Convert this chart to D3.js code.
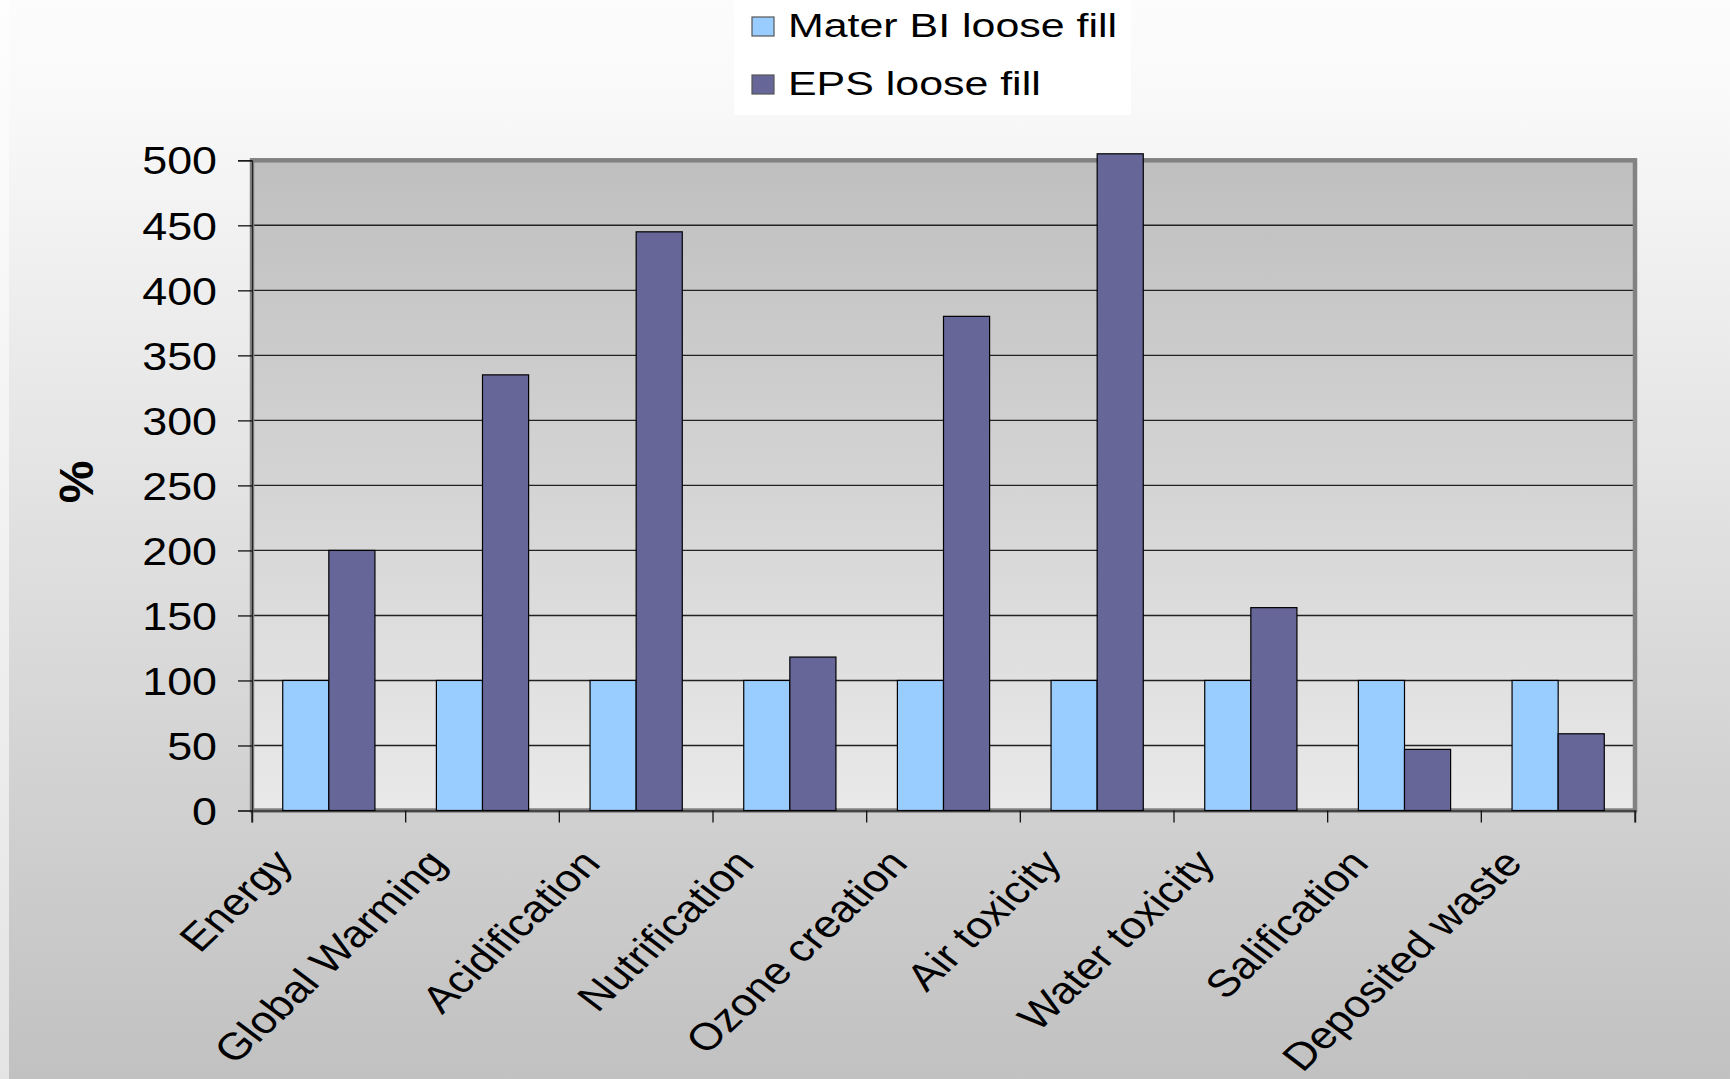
<!DOCTYPE html>
<html>
<head>
<meta charset="utf-8">
<script src="https://cdn.jsdelivr.net/npm/d3@7"></script>
<style>
  html, body { margin: 0; padding: 0; background: #ffffff; }
  svg { display: block; }
  text { font-family: "Liberation Sans", Arial, sans-serif; fill: #000; }
</style>
</head>
<body>
<svg id="chart" width="1730" height="1079"></svg>
<script>
// ---- data ----
const categories = ["Energy", "Global Warming", "Acidification", "Nutrification", "Ozone creation",
                    "Air toxicity", "Water toxicity", "Salification", "Deposited waste"];
const seriesNames = ["Mater BI loose fill", "EPS loose fill"];
const materBI = [100, 100, 100, 100, 100, 100, 100, 100, 100];
const eps = [200, 335, 445, 118, 380, 505, 156, 47, 59];
const yTickValues = [0, 50, 100, 150, 200, 250, 300, 350, 400, 450, 500];
const yTitle = "%";

// ---- layout ----
const W = 1730, H = 1079;
const plot = { left: 252, right: 1635, top: 160.3, bottom: 810.5 };
const colors = ["#99CCFF", "#666699"];
const sx = 1.18; // horizontal stretch of the original slide text

const svg = d3.select("#chart");
const defs = svg.append("defs");

const bg = defs.append("linearGradient").attr("id", "bg").attr("x1", 0).attr("y1", 0).attr("x2", 0).attr("y2", 1);
bg.append("stop").attr("offset", "0%").attr("stop-color", "#fcfcfc");
bg.append("stop").attr("offset", "9%").attr("stop-color", "#f9f9f9");
bg.append("stop").attr("offset", "100%").attr("stop-color", "#c1c1c1");

const pg = defs.append("linearGradient").attr("id", "pg").attr("x1", 0).attr("y1", 0).attr("x2", 0).attr("y2", 1);
pg.append("stop").attr("offset", "0%").attr("stop-color", "#bfbfbf");
pg.append("stop").attr("offset", "100%").attr("stop-color", "#e9e9e9");

const sg = defs.append("linearGradient").attr("id", "sg").attr("x1", 0).attr("y1", 0).attr("x2", 0).attr("y2", 1);
sg.append("stop").attr("offset", "0%").attr("stop-color", "#fefefe");
sg.append("stop").attr("offset", "100%").attr("stop-color", "#e4e4e4");

svg.append("rect").attr("width", W).attr("height", H).attr("fill", "url(#bg)");
svg.append("rect").attr("width", 9).attr("height", H).attr("fill", "url(#sg)");

// scales
const x = d3.scaleBand().domain(categories).range([plot.left, plot.right]).padding(0);
const xs = d3.scaleBand().domain(seriesNames).range([0.2 * x.bandwidth(), 0.8 * x.bandwidth()]).padding(0);
const y = d3.scaleLinear().domain([0, 500]).range([plot.bottom, plot.top]);

// plot area
svg.append("rect")
  .attr("x", plot.left).attr("y", plot.top)
  .attr("width", plot.right - plot.left).attr("height", plot.bottom - plot.top)
  .attr("fill", "url(#pg)");

// gridlines
svg.append("g")
  .selectAll("line")
  .data(yTickValues.filter(v => v > 0 && v < 500))
  .join("line")
  .attr("x1", plot.left).attr("x2", plot.right)
  .attr("y1", d => y(d)).attr("y2", d => y(d))
  .attr("stroke", "#222").attr("stroke-width", 1.4);

// frame
svg.append("rect")
  .attr("x", plot.left).attr("y", plot.top)
  .attr("width", plot.right - plot.left).attr("height", plot.bottom - plot.top)
  .attr("fill", "none").attr("stroke", "#828282").attr("stroke-width", 4.5);

// y axis
const yAxis = d3.axisLeft(y).tickValues(yTickValues).tickSize(14).tickPadding(21).tickFormat(d3.format("d"));
const gy = svg.append("g").attr("transform", `translate(${plot.left},0)`).call(yAxis);
gy.select(".domain").attr("stroke", "#222").attr("stroke-width", 1.2);
gy.selectAll(".tick line").attr("stroke", "#111").attr("stroke-width", 1.3);
gy.selectAll(".tick text")
  .attr("font-size", 38)
  .attr("font-family", "'Liberation Sans', Arial, sans-serif")
  .attr("fill", "#000")
  .each(function() {
    const t = d3.select(this);
    const xx = +t.attr("x");
    t.attr("x", null).attr("dy", "0.36em")
     .attr("transform", `translate(${xx},0) scale(${sx},1)`);
  });

// x axis
const xAxis = d3.axisBottom(x).tickSize(12).tickFormat("");
const gx = svg.append("g").attr("transform", `translate(0,${plot.bottom})`).call(xAxis);
gx.select(".domain").attr("stroke", "#333").attr("stroke-width", 1.5);
gx.selectAll(".tick").remove();
// category boundary ticks
const bounds = categories.map(c => x(c)).concat([plot.right]);
svg.append("g").selectAll("line").data(bounds).join("line")
  .attr("x1", d => d).attr("x2", d => d)
  .attr("y1", plot.bottom).attr("y2", plot.bottom + 12)
  .attr("stroke", "#111").attr("stroke-width", 1.3);

// bars
const rows = categories.map((c, i) => ({ c, vals: [materBI[i], eps[i]] }));
const groups = svg.append("g").selectAll("g").data(rows).join("g")
  .attr("transform", d => `translate(${x(d.c)},0)`);
groups.selectAll("rect")
  .data(d => d.vals.map((v, k) => ({ v, k })))
  .join("rect")
  .attr("x", d => xs(seriesNames[d.k]))
  .attr("y", d => y(d.v))
  .attr("width", xs.bandwidth())
  .attr("height", d => y(0) - y(d.v))
  .attr("fill", d => colors[d.k])
  .attr("stroke", "#000").attr("stroke-width", 1.2);

// x labels
svg.append("g").selectAll("text").data(categories).join("text")
  .attr("text-anchor", "end")
  .attr("font-size", 38)
  .attr("transform", d => `translate(${x(d) + x.bandwidth() / 2 - 34},${plot.bottom + 54}) scale(${sx},1) rotate(-48)`)
  .text(d => d);

// y title
svg.append("text")
  .attr("text-anchor", "middle")
  .attr("font-size", 48)
  .attr("font-weight", "bold")
  .attr("transform", `translate(93,482) rotate(-90)`)
  .text(yTitle);

// legend
const leg = svg.append("g");
leg.append("rect").attr("x", 734).attr("y", 0).attr("width", 397).attr("height", 115).attr("fill", "#ffffff");
const legItems = leg.selectAll("g").data(seriesNames).join("g")
  .attr("transform", (d, i) => `translate(752,${37 + i * 58})`);
legItems.append("rect")
  .attr("x", 0).attr("y", -20).attr("width", 22).attr("height", 19)
  .attr("fill", (d, i) => colors[i]).attr("stroke", "#555").attr("stroke-width", 1.2);
legItems.append("text")
  .attr("font-size", 33)
  .attr("transform", `translate(36,0) scale(1.3,1)`)
  .text(d => d);
</script>
</body>
</html>
